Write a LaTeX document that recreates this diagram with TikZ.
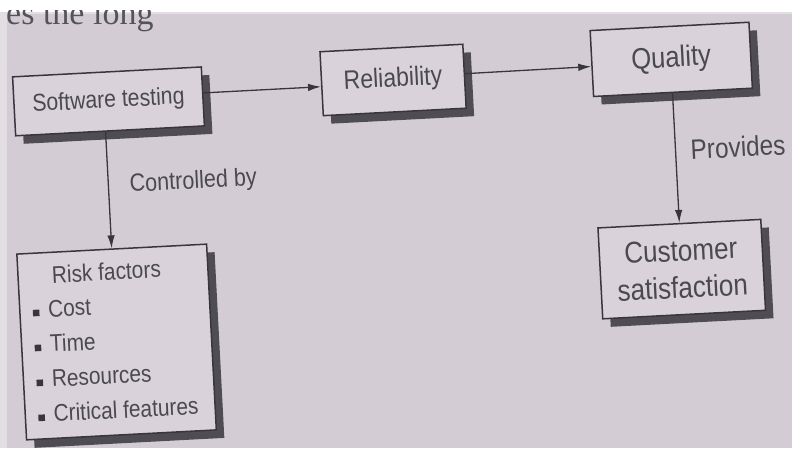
\documentclass[tikz,border=0pt]{standalone}
\usepackage{fontspec}
\setmainfont{Liberation Sans}
\newfontfamily\figfont[FakeStretch=0.87]{Liberation Sans}
\newfontfamily\pagefont{Liberation Serif}
\usetikzlibrary{shadows,arrows.meta}

\definecolor{paper}{HTML}{D3CCD5}
\definecolor{paperedge}{HTML}{E2DEE4}
\definecolor{boxfill}{HTML}{D9D2DB}
\definecolor{linec}{HTML}{38363C}
\definecolor{shadowc}{HTML}{4F4D53}
\definecolor{textc}{HTML}{4B4950}
\definecolor{pagetext}{HTML}{55535A}

\tikzset{
  box/.style={draw=linec, line width=1.5pt, fill=boxfill, text=textc,
    inner sep=0pt, align=center,
    drop shadow={shadow xshift=8pt, shadow yshift=-8pt, fill=shadowc, opacity=1}},
  arr/.style={draw=linec, line width=1.3pt, -{Latex[length=13pt,width=7.5pt]}},
  lbl/.style={text=textc, inner sep=0pt, anchor=base west},
  bullet/.style={fill=linec, draw=none, minimum size=6.5pt, inner sep=0pt},
  fs/.style={font=\figfont\fontsize{#1}{36}\selectfont}
}

\begin{document}
\begin{tikzpicture}[x=1pt,y=-1pt]
\useasboundingbox (0,0) rectangle (792,448);
% scanned page background
\fill[white] (0,0) rectangle (792,448);
\fill[paperedge] (0,12) rectangle (792,448);
\fill[paper] (7,14) rectangle (792,448);

% running text of the page, cut at the top
\begin{scope}
  \clip (5,10) rectangle (792,40);
  \node[anchor=base west, inner sep=0pt, text=pagetext,
        font=\pagefont\fontsize{34}{40}\selectfont] (runhead) at (6,24) {es the long};
\end{scope}

\begin{scope}[rotate around={3:(396,224)}, transform shape]
  % boxes
  \node[box, fs=24.4, minimum width=189pt, minimum height=59pt] (st) at (115.3,86.5) {Software testing};
  \node[box, fs=26.5, minimum width=143pt, minimum height=64pt] (rel) at (400.6,80) {Reliability};
  \node[box, fs=29.5, minimum width=159pt, minimum height=66pt] (q) at (679.5,74) {Quality};
  \node[box, font=\figfont\fontsize{30}{37}\selectfont, minimum width=163pt, minimum height=91pt] (cust) at (679,284) {Customer\\satisfaction};
  \node[box, minimum width=190pt, minimum height=186pt] (risk) at (110.8,327.2) {};

  % contents of the risk box
  \node[lbl, fs=24] (rtitle) at (49.5,265) {Risk factors};
  \node[lbl, fs=24] (r1) at (44,298.7) {Cost};
  \node[lbl, fs=24] (r2) at (44,333.6) {Time};
  \node[lbl, fs=24] (r3) at (44,368.6) {Resources};
  \node[lbl, fs=24] (r4) at (44,403.5) {Critical features};
  \node[bullet] (b1) at (32,294) {};
  \node[bullet] (b2) at (32,329) {};
  \node[bullet] (b3) at (32,364) {};
  \node[bullet] (b4) at (32,399) {};

  % connectors
  \draw[arr] ([yshift=3.5pt]st.east) -- ([yshift=-3pt]rel.west);
  \draw[arr] ([yshift=2.5pt]rel.east) -- ([yshift=-3pt]q.west);
  \draw[arr] (risk.north |- st.south) -- (risk.north);
  \draw[arr] (cust.north |- q.south) -- (cust.north);

  % connector labels
  \node[lbl, fs=24.8] (ctl) at (132,178) {Controlled by};
  \node[lbl, fs=28] (prov) at (694,175) {Provides};
\end{scope}
\end{tikzpicture}
\end{document}
